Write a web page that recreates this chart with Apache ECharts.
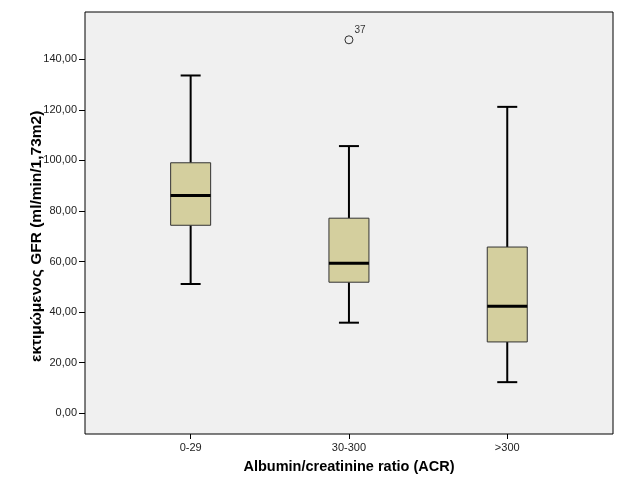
<!DOCTYPE html>
<html>
<head>
<meta charset="utf-8">
<script src="https://cdn.jsdelivr.net/npm/echarts@6/dist/echarts.min.js"></script>
<style>
html,body{margin:0;padding:0;background:#fff;}
#c{width:627px;height:502px;}
</style>
</head>
<body>
<div id="c"></div>
<script>
// ---- data ----
const categories = ['0-29', '30-300', '>300'];
const whiskerLow  = [51.1, 35.8, 12.3];
const q1          = [74.3, 51.8, 28.2];
const medians     = [86.1, 59.3, 42.3];
const q3          = [99.0, 77.1, 65.7];
const whiskerHigh = [133.5, 105.6, 121.1];
const outlierCats   = ['30-300'];
const outlierValues = [147.6];
const outlierLabels = ['37'];
const yTickMin = 0, yTickMax = 140, yTickStep = 20;
// full visible value range of the plot frame
const yFrameMin = -8.19, yFrameMax = 158.59;

const font = 'Arial, "Liberation Sans", sans-serif';

const boxData = categories.map((c, i) => [i, whiskerLow[i], q1[i], medians[i], q3[i], whiskerHigh[i]]);
const outData = outlierCats.map((c, i) => ({
  value: [categories.indexOf(c), outlierValues[i]],
  label: { formatter: outlierLabels[i] }
}));

const chart = echarts.init(document.getElementById('c'), null, { renderer: 'canvas' });

const option = {
  animation: false,
  backgroundColor: '#ffffff',
  grid: [
    // frame
    { left: 85, top: 12, width: 528, height: 422, show: true, backgroundColor: '#f0f0f0', borderColor: '#000', borderWidth: 1, containLabel: false },
    // data grid, spans the frame vertically
    { left: 111.5, top: 12, width: 474.9, height: 422, show: false, containLabel: false },
    // y tick grid, 0..140
    { left: 111.5, top: 59.3, width: 474.9, height: 354, show: false, containLabel: false }
  ],
  xAxis: [
    { gridIndex: 0, type: 'value', min: 0, max: 1, show: false },
    {
      gridIndex: 1, type: 'category', data: categories,
      boundaryGap: true,
      axisLine: { show: false, onZero: false },
      axisTick: { show: true, alignWithLabel: true, length: 5, lineStyle: { color: '#000', width: 1 } },
      axisLabel: { margin: 8, fontSize: 11, color: '#222', fontFamily: font },
      splitLine: { show: false },
      name: 'Albumin/creatinine ratio (ACR)', nameLocation: 'middle', nameGap: 25, nameMoveOverlap: false,
      nameTextStyle: { fontSize: 14.5, fontWeight: 'bold', color: '#000', fontFamily: font }
    },
    { gridIndex: 2, type: 'category', data: categories, show: false, axisLine: { onZero: false } }
  ],
  yAxis: [
    { gridIndex: 0, type: 'value', min: 0, max: 1, show: false },
    { gridIndex: 1, type: 'value', min: yFrameMin, max: yFrameMax, show: false, axisLine: { onZero: false } },
    {
      gridIndex: 2, type: 'value', min: yTickMin, max: yTickMax, interval: yTickStep, offset: 26.5,
      axisLine: { show: false, onZero: false },
      axisTick: { show: true, length: 6, lineStyle: { color: '#000', width: 1 } },
      axisLabel: { margin: 8, fontSize: 11, color: '#222', fontFamily: font,
        formatter: v => v.toFixed(2).replace('.', ',') },
      splitLine: { show: false },
      name: 'εκτιμώμενος GFR (ml/min/1,73m2)', nameLocation: 'middle', nameGap: 40, nameMoveOverlap: false,
      nameTextStyle: { fontSize: 15.5, fontWeight: 'bold', color: '#000', fontFamily: font }
    }
  ],
  series: [
    {
      type: 'custom',
      xAxisIndex: 1, yAxisIndex: 1,
      clip: false,
      data: boxData,
      encode: { x: 0, y: [1, 2, 3, 4, 5] },
      renderItem: function (params, api) {
        const x = api.value(0);
        const pLow = api.coord([x, api.value(1)]);
        const pQ1 = api.coord([x, api.value(2)]);
        const pMed = api.coord([x, api.value(3)]);
        const pQ3 = api.coord([x, api.value(4)]);
        const pHigh = api.coord([x, api.value(5)]);
        const cx = pLow[0];
        const boxW = 40, capW = 20;
        const lineStyle = { stroke: '#000', lineWidth: 2 };
        return {
          type: 'group',
          children: [
            { type: 'line', shape: { x1: cx, y1: pQ1[1], x2: cx, y2: pLow[1] }, style: lineStyle },
            { type: 'line', shape: { x1: cx, y1: pQ3[1], x2: cx, y2: pHigh[1] }, style: lineStyle },
            { type: 'line', shape: { x1: cx - capW / 2, y1: pLow[1], x2: cx + capW / 2, y2: pLow[1] }, style: lineStyle },
            { type: 'line', shape: { x1: cx - capW / 2, y1: pHigh[1], x2: cx + capW / 2, y2: pHigh[1] }, style: lineStyle },
            { type: 'rect', shape: { x: cx - boxW / 2, y: pQ3[1], width: boxW, height: pQ1[1] - pQ3[1] },
              style: { fill: '#d4cf9e', stroke: '#333', lineWidth: 1 } },
            { type: 'line', shape: { x1: cx - boxW / 2, y1: pMed[1], x2: cx + boxW / 2, y2: pMed[1] },
              style: { stroke: '#000', lineWidth: 3 } }
          ]
        };
      }
    },
    {
      type: 'scatter',
      xAxisIndex: 1, yAxisIndex: 1,
      clip: false,
      symbol: 'circle', symbolSize: 8,
      itemStyle: { color: 'rgba(0,0,0,0)', borderColor: '#000', borderWidth: 1 },
      label: { show: true, position: [10, -10], fontSize: 10, color: '#000', fontFamily: font },
      data: outData
    }
  ]
};
chart.setOption(option);
</script>
</body>
</html>
